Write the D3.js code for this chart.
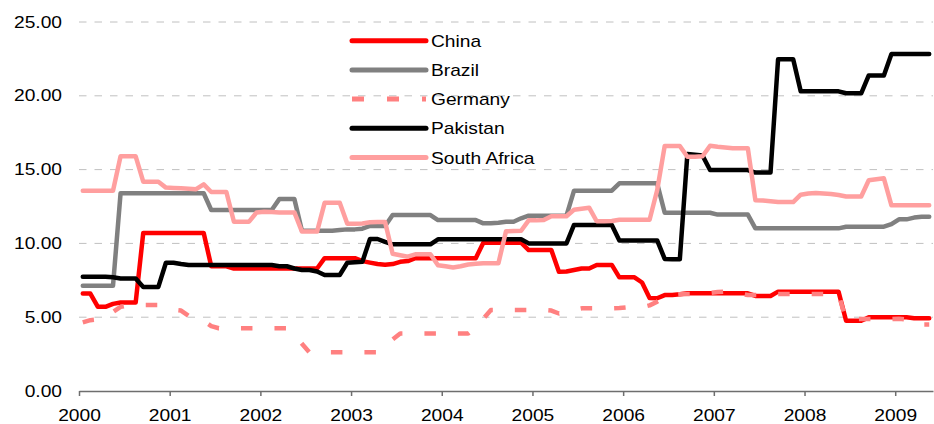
<!DOCTYPE html>
<html>
<head>
<meta charset="utf-8">
<script src="https://cdn.jsdelivr.net/npm/d3@7"></script>
<style>
  body { margin: 0; background: #fff; }
  text { font-family: "Liberation Sans", Arial, sans-serif; font-size: 16px; fill: #000; }
</style>
</head>
<body>
<div id="chart"></div>
<script>
// Monthly values, Jan 2000 .. May 2009 (one row per year)
var china = [
    6.6, 6.6, 5.7, 5.7, 5.9, 6.0, 6.0, 6.0, 10.7, 10.7, 10.7, 10.7,
    10.7, 10.7, 10.7, 10.7, 10.7, 8.45, 8.45, 8.45, 8.3, 8.3, 8.3, 8.3,
    8.3, 8.3, 8.3, 8.3, 8.3, 8.3, 8.3, 8.3, 9.0, 9.0, 9.0, 9.0,
    9.0, 8.8, 8.7, 8.6, 8.55, 8.6, 8.75, 8.8, 9.0, 9.0, 9.0, 9.0,
    9.0, 9.0, 9.0, 9.0, 9.0, 10.05, 10.05, 10.05, 10.05, 10.05, 10.05, 9.55,
    9.55, 9.55, 9.55, 8.08, 8.1, 8.2, 8.3, 8.3, 8.54, 8.54, 8.54, 7.7,
    7.7, 7.7, 7.35, 6.3, 6.28, 6.5, 6.5, 6.55, 6.62, 6.62, 6.62, 6.62,
    6.62, 6.62, 6.62, 6.62, 6.62, 6.44, 6.44, 6.44, 6.73, 6.73, 6.73, 6.73,
    6.73, 6.73, 6.73, 6.73, 6.73, 4.76, 4.76, 4.76, 4.99, 4.99, 4.99, 4.99,
    4.99, 4.99, 4.93, 4.93, 4.93
];
var brazil = [
    7.13, 7.13, 7.13, 7.13, 7.13, 13.4, 13.4, 13.4, 13.4, 13.4, 13.4, 13.4,
    13.4, 13.4, 13.4, 13.4, 13.4, 12.26, 12.26, 12.26, 12.26, 12.26, 12.26, 12.26,
    12.26, 12.26, 13.0, 13.0, 13.0, 10.86, 10.86, 10.86, 10.86, 10.86, 10.9, 10.95,
    10.95, 11.0, 11.18, 11.18, 11.18, 11.92, 11.92, 11.92, 11.92, 11.92, 11.92, 11.58,
    11.58, 11.58, 11.58, 11.58, 11.58, 11.36, 11.36, 11.4, 11.47, 11.47, 11.7, 11.88,
    11.88, 11.88, 11.88, 11.88, 11.88, 13.57, 13.57, 13.57, 13.57, 13.57, 13.57, 14.07,
    14.07, 14.07, 14.07, 14.07, 14.07, 12.08, 12.08, 12.08, 12.08, 12.08, 12.08, 12.08,
    11.95, 11.95, 11.95, 11.95, 11.95, 11.02, 11.02, 11.02, 11.02, 11.02, 11.02, 11.02,
    11.02, 11.02, 11.02, 11.02, 11.02, 11.13, 11.13, 11.13, 11.13, 11.13, 11.13, 11.3,
    11.63, 11.63, 11.75, 11.81, 11.81
];
var germany = [
    4.65, 4.8, 4.85, 5.0, 5.35, 5.7, 5.8, 5.8, 5.83, 5.83, 5.83, 5.6,
    5.5, 5.45, 5.1, 4.95, 4.75, 4.4, 4.25, 4.25, 4.25, 4.25, 4.25, 4.25,
    4.25, 4.25, 4.25, 4.25, 3.85, 3.2, 2.62, 2.62, 2.62, 2.62, 2.62, 2.62,
    2.62, 2.62, 2.62, 2.62, 2.95, 3.5, 3.9, 3.9, 3.9, 3.9, 3.9, 3.9,
    3.9, 3.9, 3.9, 3.9, 4.3, 4.9, 5.49, 5.49, 5.49, 5.49, 5.49, 5.49,
    5.49, 5.49, 5.45, 5.25, 5.35, 5.5, 5.6, 5.6, 5.6, 5.6, 5.6, 5.62,
    5.67, 5.67, 5.67, 5.8, 6.05, 6.4, 6.5, 6.55, 6.57, 6.57, 6.6, 6.65,
    6.7, 6.73, 6.73, 6.6, 6.5, 6.5, 6.5, 6.5, 6.57, 6.57, 6.57, 6.57,
    6.57, 6.57, 6.57, 6.57, 6.57, 4.8, 4.88, 4.88, 4.88, 4.88, 4.88, 4.88,
    4.9, 4.85, 4.5, 4.5, 4.5
];
var pakistan = [
    7.74, 7.74, 7.74, 7.74, 7.7, 7.62, 7.62, 7.62, 7.05, 7.05, 7.05, 8.69,
    8.69, 8.6, 8.53, 8.53, 8.53, 8.53, 8.53, 8.53, 8.53, 8.53, 8.53, 8.53,
    8.53, 8.53, 8.45, 8.45, 8.3, 8.2, 8.2, 8.1, 7.86, 7.86, 7.86, 8.69,
    8.72, 8.76, 10.3, 10.3, 10.1, 9.94, 9.94, 9.94, 9.94, 9.94, 9.94, 10.28,
    10.28, 10.28, 10.28, 10.28, 10.28, 10.28, 10.28, 10.28, 10.28, 10.28, 10.28, 10.0,
    10.0, 10.0, 10.0, 10.0, 10.0, 11.25, 11.25, 11.25, 11.25, 11.25, 11.25, 10.2,
    10.2, 10.2, 10.2, 10.2, 10.2, 8.95, 8.92, 8.92, 16.06, 16.0, 15.95, 14.97,
    14.97, 14.97, 14.97, 14.97, 14.97, 14.8, 14.8, 14.8, 22.47, 22.47, 22.47, 20.3,
    20.3, 20.3, 20.3, 20.3, 20.3, 20.17, 20.17, 20.17, 21.38, 21.38, 21.38, 22.83,
    22.83, 22.83, 22.83, 22.83, 22.83
];
var southAfrica = [
    13.56, 13.56, 13.56, 13.56, 13.56, 15.9, 15.9, 15.9, 14.18, 14.18, 14.18, 13.78,
    13.75, 13.73, 13.7, 13.67, 14.0, 13.48, 13.48, 13.48, 11.47, 11.47, 11.47, 12.1,
    12.15, 12.12, 12.1, 12.1, 12.1, 10.8, 10.8, 10.8, 12.75, 12.75, 12.75, 11.33,
    11.33, 11.35, 11.43, 11.45, 11.45, 9.3, 9.2, 9.1, 9.26, 9.26, 9.26, 8.52,
    8.45, 8.37, 8.45, 8.57, 8.62, 8.66, 8.66, 8.66, 10.82, 10.84, 10.86, 11.56,
    11.56, 11.58, 11.84, 11.84, 11.84, 12.28, 12.35, 12.42, 11.5, 11.5, 11.52, 11.6,
    11.6, 11.6, 11.6, 11.6, 13.6, 16.6, 16.6, 16.6, 15.87, 15.87, 15.9, 16.62,
    16.55, 16.5, 16.44, 16.44, 16.44, 12.92, 12.9, 12.85, 12.8, 12.8, 12.8, 13.3,
    13.38, 13.42, 13.38, 13.35, 13.28, 13.18, 13.18, 13.18, 14.28, 14.35, 14.41, 12.58,
    12.58, 12.58, 12.58, 12.58, 12.58
];

var seriesNames = ["China", "Brazil", "Germany", "Pakistan", "South Africa"];
var yearLabels = [2000, 2001, 2002, 2003, 2004, 2005, 2006, 2007, 2008, 2009];
var yTicks = [0, 5, 10, 15, 20, 25];

var series = [
    { name: seriesNames[0], values: china, color: "#ff0000", dash: null },
    { name: seriesNames[1], values: brazil, color: "#808080", dash: null },
    { name: seriesNames[2], values: germany, color: "#ff8080", dash: "11.5,22" },
    { name: seriesNames[3], values: pakistan, color: "#000000", dash: null },
    { name: seriesNames[4], values: southAfrica, color: "#ff9f9f", dash: null }
];

var width = 934,
    height = 424;
var margin = { top: 22, right: 1, bottom: 33, left: 79 },
    iwidth = width - margin.left - margin.right,
    iheight = height - margin.top - margin.bottom;
var stretch = 1.2; // the labels in the picture are drawn a bit wide

var svg = d3.select("#chart")
    .append("svg")
    .attr("width", width)
    .attr("height", height);

var g = svg.append("g")
    .attr("transform", `translate(${margin.left}, ${margin.top})`);

// months on x, points sit in the middle of their month
var x = d3.scaleLinear()
    .domain([0, 113])
    .range([0, iwidth]);

var y = d3.scaleLinear()
    .domain([0, 25])
    .range([iheight, 0]);

// dashed grid lines
g.selectAll("line.grid")
    .data(yTicks.slice(1))
    .enter()
    .append("line")
    .attr("class", "grid")
    .attr("x1", 0)
    .attr("x2", iwidth)
    .attr("y1", function(d) { return y(d); })
    .attr("y2", function(d) { return y(d); })
    .style("stroke", "#c0c0c0")
    .style("stroke-width", 1)
    .style("stroke-dasharray", "7.5,8");

// Y axis labels
var yAxis = g.append("g")
    .call(d3.axisLeft(y).tickValues(yTicks).tickFormat(d3.format(".2f")).tickSize(0));
yAxis.select(".domain").remove();
yAxis.selectAll("text")
    .attr("x", -17 / stretch)
    .attr("transform", `scale(${stretch},1)`)
    .style("font-family", "Liberation Sans, Arial, sans-serif")
    .style("font-size", "16px")
    .style("fill", "#000");

// X axis
var xAxis = g.append("g")
    .attr("transform", `translate(0, ${iheight})`)
    .call(d3.axisBottom(x)
        .tickValues(yearLabels.map(function(d, i) { return i * 12; }))
        .tickFormat(function(d) { return yearLabels[d / 12]; })
        .tickSize(5)
        .tickSizeOuter(0));
xAxis.select(".domain").style("stroke", "#6e6e6e").style("stroke-width", 1.5);
xAxis.selectAll(".tick line").style("stroke", "#6e6e6e").style("stroke-width", 1.5);
xAxis.selectAll("text")
    .attr("y", 30)
    .attr("dy", 0)
    .attr("transform", `scale(${stretch},1)`)
    .style("font-family", "Liberation Sans, Arial, sans-serif")
    .style("font-size", "16px")
    .style("fill", "#000");

// lines
var line = d3.line()
    .x(function(d, i) { return x(i + 0.5); })
    .y(function(d) { return y(d); });

g.selectAll("path.series")
    .data(series)
    .enter()
    .append("path")
    .attr("class", "series")
    .attr("d", function(d) { return line(d.values); })
    .style("fill", "none")
    .style("stroke", function(d) { return d.color; })
    .style("stroke-width", 4.5)
    .style("stroke-linejoin", "round")
    .style("stroke-linecap", function(d) { return d.dash ? "butt" : "round"; })
    .style("stroke-dasharray", function(d) { return d.dash; });

// legend
var legend = svg.selectAll("g.legend")
    .data(series)
    .enter()
    .append("g")
    .attr("class", "legend")
    .attr("transform", function(d, i) { return "translate(352," + (40.7 + i * 29.2) + ")"; });

legend.append("line")
    .attr("x1", 0)
    .attr("x2", 74)
    .style("stroke", function(d) { return d.color; })
    .style("stroke-width", 5)
    .style("stroke-linecap", function(d) { return d.dash ? "butt" : "round"; })
    .style("stroke-dasharray", function(d) { return d.dash ? "12,23" : null; });

legend.append("text")
    .attr("x", 79 / stretch)
    .attr("y", 6)
    .attr("transform", `scale(${stretch},1)`)
    .text(function(d) { return d.name; });
</script>
</body>
</html>
